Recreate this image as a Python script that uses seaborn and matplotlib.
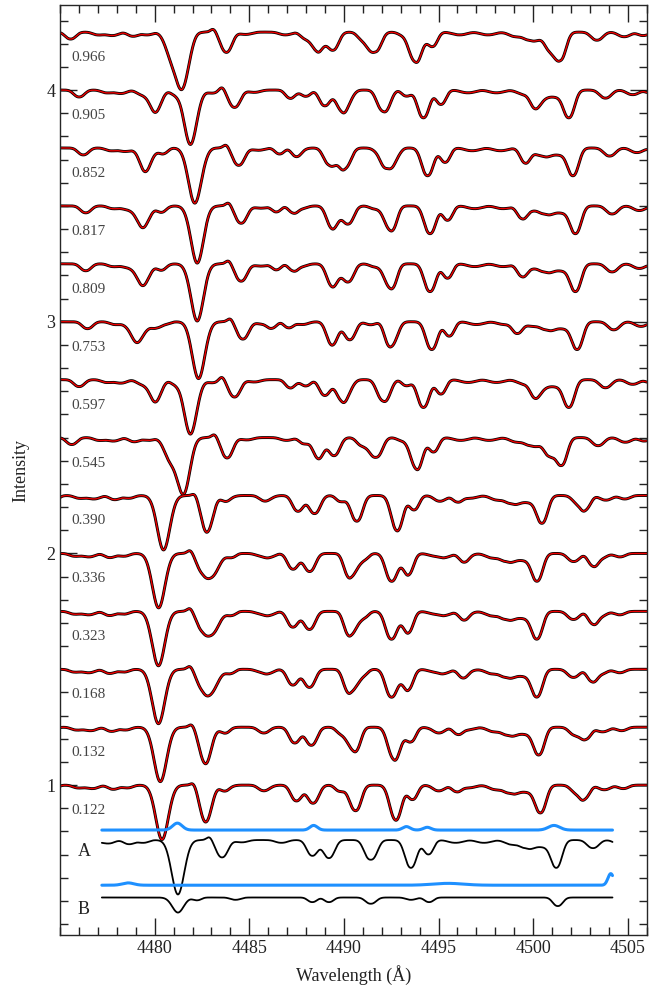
import numpy as np
import seaborn as sns
import matplotlib.pyplot as plt
from matplotlib.ticker import MultipleLocator

# =============================
# Data
# =============================
# orbital phases, top to bottom, and the vertical offset of each spectrum
phases = ["0.966", "0.905", "0.852", "0.817", "0.809", "0.753", "0.597",
          "0.545", "0.390", "0.336", "0.323", "0.168", "0.132", "0.122"]
offsets = [4.25, 4.00, 3.75, 3.50, 3.25, 3.00, 2.75,
           2.50, 2.25, 2.00, 1.75, 1.50, 1.25, 1.00]

# wavelength shifts (A) of primary and secondary in each spectrum
shift_a = [0.21, 0.66, 0.88, 1.01, 1.01, 1.10, 0.66,
           0.27, -0.76, -1.02, -1.03, -1.03, -0.93, -0.84]
shift_b = [-0.40, -1.20, -1.73, -1.90, -1.90, -2.13, -1.20,
           -0.45, 1.50, 1.85, 1.85, 1.80, 1.50, 1.45]

# primary (A) line list: centre, depth, width, profile shape
a_center = [4475.35, 4476.8, 4477.55, 4478.65, 4479.4, 4481.23, 4482.9,
            4483.56, 4484.6, 4486.7, 4488.33, 4489.21, 4491.42, 4493.54,
            4494.47, 4495.9, 4497.4, 4498.9, 4499.6, 4500.3, 4501.22,
            4503.16, 4504.6, 4505.6]
a_depth = [0.030, 0.012, 0.015, 0.018, 0.012, 0.235, -0.015,
           0.075, 0.010, 0.012, 0.068, 0.078, 0.085, 0.120,
           0.062, 0.012, 0.012, 0.020, 0.030, 0.030, 0.120,
           0.035, 0.020, 0.015]
a_width = [0.28, 0.28, 0.32, 0.28, 0.28, 0.33, 0.15,
           0.31, 0.32, 0.32, 0.29, 0.30, 0.34, 0.31,
           0.26, 0.38, 0.38, 0.38, 0.28, 0.45, 0.30,
           0.31, 0.32, 0.28]
a_shape = [2.3, 2.3, 2.3, 2.3, 2.3, 2.0, 2.0,
           2.3, 2.3, 2.3, 2.3, 2.3, 2.5, 2.3,
           2.3, 2.3, 2.3, 2.3, 2.3, 3.5, 2.3,
           2.3, 2.3, 2.3]

# secondary (B) line list
b_center = [4481.23, 4482.24, 4484.27, 4488.33, 4489.21, 4491.42,
            4493.54, 4494.50, 4501.30]
b_depth = [0.065, 0.012, 0.010, 0.020, 0.020, 0.027, 0.010, 0.020, 0.037]
b_width = [0.30, 0.22, 0.27, 0.24, 0.24, 0.28, 0.27, 0.24, 0.26]
b_shape = [2.0, 2.3, 2.3, 2.3, 2.3, 2.3, 2.3, 2.3, 2.3]
b_weight = 1.3          # secondary lines look deeper in the observed spectra

# disentangled spectra: levels and range
dis_range = [4477.2, 4504.2]
a_level, a_blue_level = 0.763, 0.806
b_level, b_blue_level = 0.515, 0.568

# features seen in the blue residual curves: centre, height, width
a_blue_center = [4481.2, 4488.4, 4493.3, 4494.4, 4501.1]
a_blue_height = [0.030, 0.020, 0.015, 0.012, 0.020]
a_blue_width = [0.25, 0.20, 0.20, 0.20, 0.30]
b_blue_center = [4478.6, 4495.5, 4504.1]
b_blue_height = [0.010, 0.008, 0.050]
b_blue_width = [0.30, 0.80, 0.15]


def lines(wl, centers, depths, widths, shapes=None, shift=0.0):
    if shapes is None:
        shapes = [2] * len(centers)
    out = np.zeros_like(wl)
    for c, d, w, p in zip(centers, depths, widths, shapes):
        out += d * np.exp(-0.5 * np.abs((wl - c - shift) / w) ** p)
    return out


wl = np.linspace(4475, 4506, 2400)

# =============================
# Style
# =============================
sns.set_theme(style="ticks")
plt.rcParams["font.family"] = ["Liberation Serif", "DejaVu Serif"]
plt.rcParams["axes.linewidth"] = 1.0

fig = plt.figure(figsize=(6.67, 9.98), dpi=100)
ax = fig.add_axes([0.090, 0.0631, 0.8796, 0.9319])

# =============================
# Composite spectra (observed black, fit red)
# =============================
for ph, off, da, db in zip(phases, offsets, shift_a, shift_b):
    flux = off - lines(wl, a_center, a_depth, a_width, a_shape, da) \
        - b_weight * lines(wl, b_center, b_depth, b_width, b_shape, db)
    sns.lineplot(x=wl, y=flux, ax=ax, color="black", linewidth=2.1,
                 estimator=None, sort=False, legend=False)
    sns.lineplot(x=wl, y=flux, ax=ax, color="#ee0000", linewidth=1.0,
                 estimator=None, sort=False, legend=False)
    ax.text(4475.6, off - 0.11, ph, fontsize=11, color="#444444",
            ha="left", va="center")

# =============================
# Disentangled spectra A and B
# =============================
wd = wl[(wl >= dis_range[0]) & (wl <= dis_range[1])]
a_spec = a_level - lines(wd, a_center, a_depth, a_width, a_shape)
b_spec = b_level - lines(wd, b_center, b_depth, b_width, b_shape)
a_blue = a_blue_level + lines(wd, a_blue_center, a_blue_height, a_blue_width)
b_blue = b_blue_level + lines(wd, b_blue_center, b_blue_height, b_blue_width)

for y, col, lw in [(a_blue, "#1e90ff", 2.2), (a_spec, "black", 1.3),
                   (b_blue, "#1e90ff", 2.2), (b_spec, "black", 1.3)]:
    sns.lineplot(x=wd, y=y, ax=ax, color=col, linewidth=lw,
                 estimator=None, sort=False, legend=False)

ax.text(4475.95, 0.715, "A", fontsize=13, color="#222222", ha="left", va="center")
ax.text(4475.95, 0.465, "B", fontsize=13, color="#222222", ha="left", va="center")

# =============================
# Axes
# =============================
ax.set_xlim(4475, 4506)
ax.set_ylim(0.353, 4.367)
ax.set_xticks([4480, 4485, 4490, 4495, 4500, 4505])
ax.xaxis.set_minor_locator(MultipleLocator(1))
ax.yaxis.set_major_locator(MultipleLocator(1))
ax.yaxis.set_minor_locator(MultipleLocator(0.1))
ax.tick_params(which="both", direction="in", top=True, right=True,
               labelsize=13, colors="#222222")
ax.tick_params(which="major", length=12, width=1.0)
ax.tick_params(which="minor", length=6, width=1.0)
ax.set_xlabel("Wavelength (Å)", fontsize=13, color="#222222", labelpad=6)
ax.set_ylabel("Intensity", fontsize=13, color="#222222", labelpad=12)

plt.savefig("out.png", dpi=100)
